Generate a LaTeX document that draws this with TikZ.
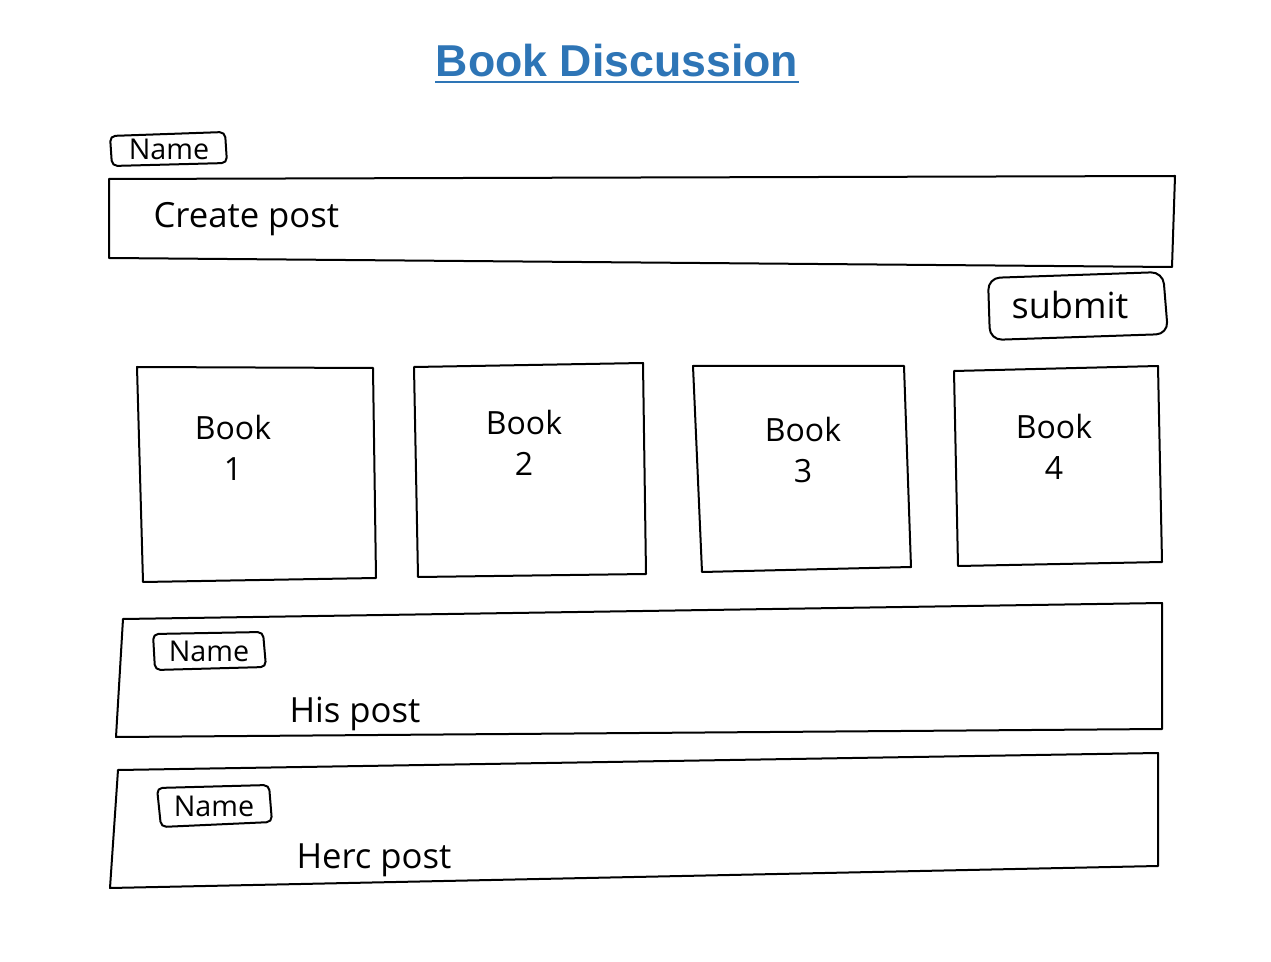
\documentclass[tikz,border=0pt]{standalone}
\usepackage{fontspec}
\setmainfont{Open Sans}
\newfontfamily\titlefont{Liberation Sans}
\definecolor{titleblue}{RGB}{46,117,182}

\tikzset{every picture/.style={line width=0.75pt},
  sketch/.style={line width=1.5pt, line join=round},
  tagline/.style={sketch, rounded corners=4pt},
  hand/.style={inner sep=0.75pt, font=\fontsize{24}{29}\selectfont},
  tagtext/.style={hand, font=\fontsize{21.5}{26}\selectfont},
  booklabel/.style={hand, align=center, font=\fontsize{24}{31}\selectfont}}

\begin{document}
\begin{tikzpicture}[x=0.75pt,y=0.75pt,yscale=-1,xscale=1]
\useasboundingbox (0,0) rectangle (1271,962);

% Title
\draw (617,77) node [anchor=base][inner sep=0pt][text=titleblue][font=\titlefont\bfseries\fontsize{33.5}{40}\selectfont] (title) {Book Discussion};
\draw [titleblue, line width=2pt] ([yshift=3.75pt]title.base west) -- ([yshift=3.75pt]title.base east) ;

%Shape: Rectangle [name tag]
\draw [tagline] (110,136) -- (225,132) -- (227,163) -- (112,166) -- cycle ;
% Text Node
\draw (169,149) node [tagtext] (nametop) {Name};
%Shape: Rectangle [create post]
\draw [sketch] (109,179) -- (1175,176) -- (1172,267) -- (109,258) -- cycle ;
% Text Node
\draw (152,228) node [anchor=base west][hand][font=\fontsize{26}{31}\selectfont] (create) {Create post};
%Shape: Rectangle [submit]
\draw [sketch, rounded corners=9pt] (988,278) -- (1163,272) -- (1168,334) -- (990,340) -- cycle ;
% Text Node
\draw (1070,305) node [hand][font=\fontsize{27}{32}\selectfont] (submit) {submit};

%Shape: Rectangle [book 1]
\draw [sketch] (137,367) -- (373,368) -- (376,578) -- (143,582) -- cycle ;
% Text Node
\draw (233,448) node [booklabel] (book1) {Book\\1};
%Shape: Rectangle [book 2]
\draw [sketch] (414,367) -- (643,363) -- (646,574) -- (418,577) -- cycle ;
% Text Node
\draw (524,443) node [booklabel] (book2) {Book\\2};
%Shape: Rectangle [book 3]
\draw [sketch] (693,366) -- (904,366) -- (911,567) -- (702,572) -- cycle ;
% Text Node
\draw (803,450) node [booklabel] (book3) {Book\\3};
%Shape: Rectangle [book 4]
\draw [sketch] (954,371) -- (1158,366) -- (1162,562) -- (958,566) -- cycle ;
% Text Node
\draw (1054,447) node [booklabel] (book4) {Book\\4};

%Shape: Rectangle [his post]
\draw [sketch] (123,619) -- (1162,603) -- (1162,729) -- (116,737) -- cycle ;
%Shape: Rectangle [name tag]
\draw [tagline] (153,634) -- (263,632) -- (266,667) -- (155,670) -- cycle ;
% Text Node
\draw (209,651) node [tagtext] (namehis) {Name};
% Text Node
\draw (288,722) node [anchor=base west][hand][font=\fontsize{26}{31}\selectfont] (hispost) {His post};

%Shape: Rectangle [her post]
\draw [sketch] (118,770) -- (1158,753) -- (1158,866) -- (110,888) -- cycle ;
%Shape: Rectangle [name tag]
\draw [tagline] (157,788) -- (269,785) -- (272,822) -- (161,827) -- cycle ;
% Text Node
\draw (214,806) node [tagtext] (nameher) {Name};
% Text Node
\draw (295,868) node [anchor=base west][hand][font=\fontsize{26}{31}\selectfont] (herpost) {Herc post};
\end{tikzpicture}
\end{document}
